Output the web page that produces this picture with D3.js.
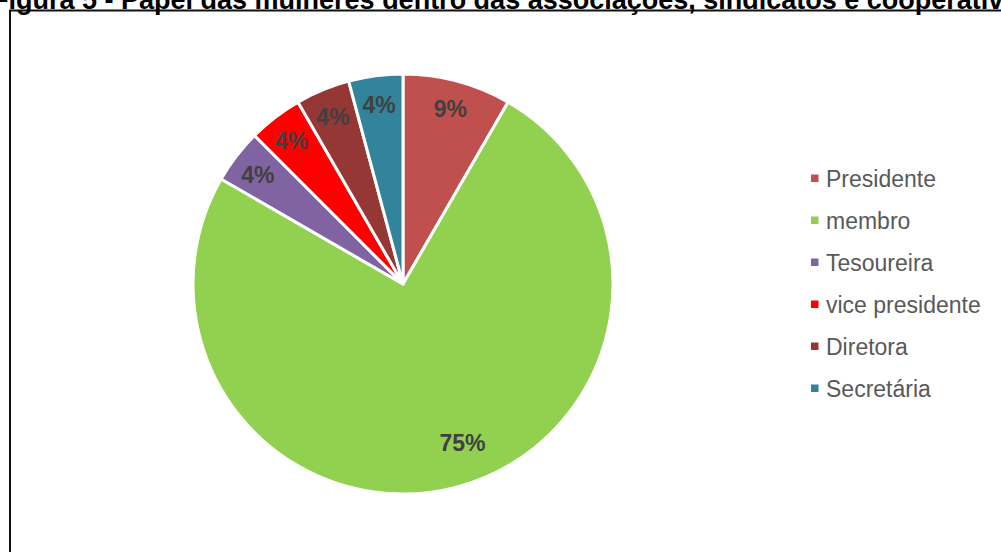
<!DOCTYPE html>
<html><head><meta charset="utf-8">
<script src="https://cdn.jsdelivr.net/npm/d3@7"></script>
<style>body{margin:0;background:#fff;overflow:hidden}svg{display:block}</style>
</head><body>
<svg id="c" width="1001" height="552"></svg>
<script>
const titleText = "Figura 5 - Papel das mulheres dentro das associações, sindicatos e cooperativas";
const categories = ["Presidente", "membro", "Tesoureira", "vice presidente", "Diretora", "Secretária"];
const values = [2, 18, 1, 1, 1, 1];
const pctLabels = ["9%", "75%", "4%", "4%", "4%", "4%"];
const colors = ["#C0504D", "#92D050", "#8064A2", "#FF0000", "#953735", "#31849B"];

const svg = d3.select("#c");
svg.append("rect").attr("x", 10).attr("y", 10.5).attr("width", 1100).attr("height", 700)
  .attr("fill", "#fff").attr("stroke", "#111").attr("stroke-width", 2);

svg.append("text").attr("x", -8).attr("y", 9)
  .attr("font-family", "Liberation Sans, Arial, sans-serif").attr("font-weight", "bold")
  .attr("font-size", 27).attr("fill", "#000").text(titleText);

const cx = 403, cy = 284, R = 210;
const g = svg.append("g").attr("transform", `translate(${cx},${cy})`);
const pie = d3.pie().sort(null).value(d => d)(values);
const arc = d3.arc().innerRadius(0).outerRadius(R);
g.selectAll("path").data(pie).join("path")
  .attr("d", arc).attr("fill", (d, i) => colors[i])
  .attr("stroke", "#fff").attr("stroke-width", 3).attr("stroke-linejoin", "round");

g.selectAll("text").data(pie).join("text")
  .attr("transform", d => {
    const big = d.endAngle - d.startAngle > 2;
    const r = big ? 168 : 183;
    const a = (d.startAngle + d.endAngle) / 2 - (big ? 0.1 : 0);
    return `translate(${r * Math.sin(a)},${-r * Math.cos(a) + 2})`;
  })
  .attr("text-anchor", "middle").attr("dominant-baseline", "central")
  .attr("font-family", "Liberation Sans, Arial, sans-serif").attr("font-weight", "bold")
  .attr("font-size", 23).attr("fill", "#404040")
  .text((d, i) => pctLabels[i]);

const lg = svg.append("g").attr("transform", "translate(811,178)");
const rows = lg.selectAll("g").data(categories).join("g")
  .attr("transform", (d, i) => `translate(0,${i * 42})`);
rows.append("rect").attr("x", 0).attr("y", -3.5).attr("width", 7.5).attr("height", 7.5)
  .attr("fill", (d, i) => colors[i]);
rows.append("text").attr("x", 15).attr("y", 1).attr("dominant-baseline", "central")
  .attr("font-family", "Liberation Sans, Arial, sans-serif").attr("font-size", 23)
  .attr("fill", "#595959").text(d => d);
</script>
</body></html>
